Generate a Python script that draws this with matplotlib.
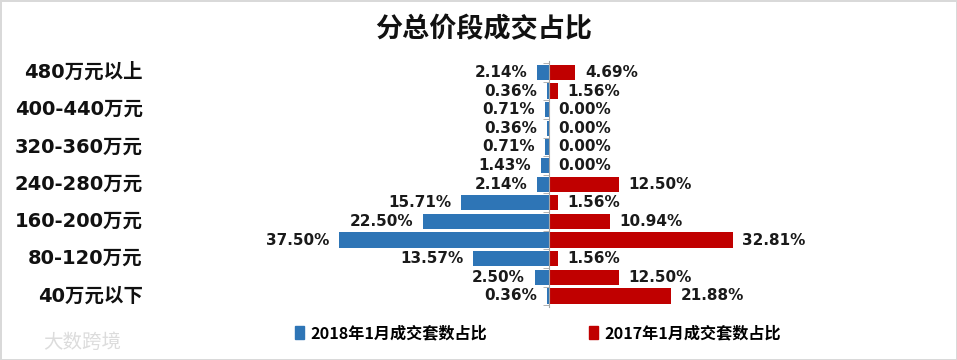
import matplotlib
matplotlib.use("Agg")
import matplotlib.pyplot as plt
import matplotlib.transforms as mtransforms
from matplotlib.patches import Rectangle
import numpy as np

plt.rcParams['font.family'] = ['DejaVu Sans', 'Noto Sans CJK SC']

# categories from bottom to top
cats = ['40万元以下', '40-80万元', '80-120万元', '120-160万元', '160-200万元',
        '200-240万元', '240-280万元', '280-320万元', '320-360万元', '360-400万元',
        '400-440万元', '440-480万元', '480万元以上']
share_2018 = [0.36, 2.50, 13.57, 37.50, 22.50, 15.71, 2.14, 1.43, 0.71, 0.36, 0.71, 0.36, 2.14]
share_2017 = [21.88, 12.50, 1.56, 32.81, 10.94, 1.56, 12.50, 0.00, 0.00, 0.00, 0.00, 1.56, 4.69]
name_2018 = '2018年1月成交套数占比'
name_2017 = '2017年1月成交套数占比'
title = '分总价段成交占比'

blue = '#2E75B6'
red = '#C00000'

fig = plt.figure(figsize=(9.57, 3.6), dpi=100)
fig.patch.set_edgecolor('#d9d9d9')
fig.patch.set_linewidth(2)
ax = fig.add_axes([0.164, 0.147, 0.819, 0.683])

y = np.arange(len(cats))
b18 = ax.barh(y, [-v for v in share_2018], height=0.82, color=blue)
b17 = ax.barh(y, share_2017, height=0.82, color=red)

for yi, v in zip(y, share_2018):
    ax.annotate('%.2f%%' % v, (-v, yi), xytext=(-7, 0), textcoords='offset points',
                ha='right', va='center', fontsize=11, fontweight='bold', color='#1a1a1a')
for yi, v in zip(y, share_2017):
    ax.annotate('%.2f%%' % v, (v, yi), xytext=(7, 0), textcoords='offset points',
                ha='left', va='center', fontsize=11, fontweight='bold', color='#1a1a1a')

ax.set_xlim(-70, 70)
ax.set_ylim(-0.6, len(cats) - 0.4)
for s in ['top', 'right', 'bottom']:
    ax.spines[s].set_visible(False)
ax.spines['left'].set_position(('data', 0))
ax.spines['left'].set_color('#a6a6a6')
ax.set_xticks([])
ax.set_yticks([])
ax.set_yticks(np.arange(len(cats) + 1) - 0.5, minor=True)
ax.tick_params(axis='y', which='minor', length=4, color='#a6a6a6', labelleft=False)

# category labels, every other one, at far left
trans = mtransforms.blended_transform_factory(ax.transAxes, ax.transData)
for i in range(0, len(cats), 2):
    ax.text(-0.018, y[i], cats[i], transform=trans, ha='right', va='center',
            fontsize=14, fontweight='bold', color='#111111')

fig.text(0.505, 0.918, title, ha='center', va='center', fontsize=19.5,
         fontweight='bold', family=['Noto Sans CJK SC'], color='#111111')

handles = [Rectangle((0, 0), 1, 1, color=blue), Rectangle((0, 0), 1, 1, color=red)]
fig.legend(handles, [name_2018, name_2017], loc='center', ncol=2,
           bbox_to_anchor=(0.562, 0.075), frameon=False, handlelength=0.55,
           handleheight=0.9, handletextpad=0.4, columnspacing=6.3,
           prop={'family': ['Noto Sans CJK SC'], 'size': 11.6, 'weight': 'bold'})

fig.text(0.045, 0.048, '大数跨境', ha='left', va='center', fontsize=14,
         family=['Noto Sans CJK SC'], color='#dcdcdc')

fig.savefig('out.png', dpi=100, facecolor='white', edgecolor=fig.get_edgecolor())
